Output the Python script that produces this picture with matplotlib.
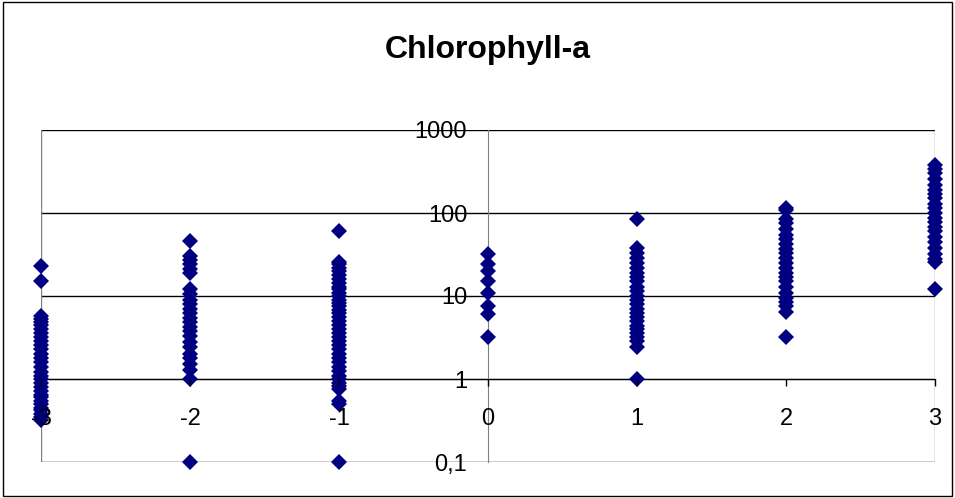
import matplotlib.pyplot as plt
import matplotlib.patches as patches
from matplotlib.ticker import FixedLocator, FixedFormatter, NullLocator

plt.rcParams['font.family'] = ['Liberation Sans', 'DejaVu Sans']
plt.rcParams['axes.unicode_minus'] = False

# chlorophyll-a values per class
vals_m3 = [23, 15, 5.8, 5.3, 4.8, 4.5, 4.0, 3.6, 3.2, 2.9, 2.6, 2.3, 2.0, 1.8, 1.6,
           1.4, 1.2, 1.1, 1.0, 0.9, 0.8, 0.72, 0.65, 0.6, 0.55, 0.5, 0.45, 0.42,
           0.38, 0.35, 0.32]
vals_m2 = [46, 30, 27, 24, 21, 19, 12, 10.5, 9, 8, 7, 6.2, 5.5, 4.8, 4.2, 3.8, 3.3,
           2.8, 2.4, 2.0, 1.8, 1.5, 1.3, 1.0, 0.1]
vals_m1 = [60, 26, 24, 22, 20, 18, 16, 14.5, 13, 12, 11, 10, 9, 8.2, 7.5, 6.8, 6.2,
           5.6, 5.0, 4.5, 4.0, 3.6, 3.2, 2.9, 2.6, 2.3, 2.0, 1.8, 1.6, 1.4, 1.25,
           1.1, 1.0, 0.9, 0.82, 0.75, 0.55, 0.5, 0.1]
vals_0 = [32, 24, 20, 15, 11, 7.5, 6, 3.2]
vals_p1 = [85, 38, 33, 29, 25, 22, 19, 17, 15, 13, 11.5, 10, 9, 8, 7, 6.3, 5.6, 5,
           4.4, 4, 3.6, 3.2, 2.9, 2.4, 1.0]
vals_p2 = [115, 110, 85, 75, 65, 55, 48, 42, 37, 33, 29, 25, 22, 19, 17, 15, 13, 11,
           9.5, 8.5, 7.5, 6.5, 3.2]
vals_p3 = [380, 340, 300, 260, 220, 190, 170, 150, 130, 115, 100, 88, 78, 68, 60,
           52, 45, 38, 32, 28, 26, 12]

classes = [-3, -2, -1, 0, 1, 2, 3]
groups = [vals_m3, vals_m2, vals_m1, vals_0, vals_p1, vals_p2, vals_p3]

y_ticks = [0.1, 1, 10, 100, 1000]
y_labels = ["0,1", "1", "10", "100", "1000"]
x_labels = ["-3", "-2", "-1", "0", "1", "2", "3"]

fig = plt.figure(figsize=(9.55, 4.98), dpi=100)
ax = fig.add_axes([41/955, 1-462/498, (935-41)/955, (462-130)/498])

xs, ys = [], []
for c, g in zip(classes, groups):
    xs += [c] * len(g)
    ys += g
ax.plot(xs, ys, 'D', color='#000080', ms=8, mew=0, ls='none', zorder=5, clip_on=False)

ax.set_yscale('log')
ax.set_ylim(0.1, 1000)
ax.set_xlim(-3, 3)

ax.yaxis.set_major_locator(FixedLocator(y_ticks))
ax.yaxis.set_major_formatter(FixedFormatter(y_labels))
ax.yaxis.set_minor_locator(NullLocator())
ax.set_xticks(classes)
ax.set_xticklabels(x_labels)

for y in y_ticks:
    ax.axhline(y, color='black', lw=1, zorder=1)
ax.axvline(-3, color='#808080', lw=1, zorder=1)
ax.axvline(3, color='#808080', lw=1, zorder=1)

ax.spines['top'].set_visible(False)
ax.spines['right'].set_visible(False)
ax.spines['left'].set_position(('data', 0))
ax.spines['left'].set_color('#808080')
ax.spines['left'].set_zorder(1.5)
ax.spines['bottom'].set_position(('data', 1))
ax.spines['bottom'].set_color('black')
ax.spines['bottom'].set_zorder(1.5)

ax.tick_params(axis='y', length=0, pad=15, labelsize=17)
ax.tick_params(axis='x', direction='out', length=5, width=1, pad=16, labelsize=17)
# tick labels sit on top of the markers, like in the original
ax.xaxis.set_zorder(6)
ax.yaxis.set_zorder(6)

fig.text(487.5/955, 1-58/498, "Chlorophyll-a", ha='center', va='baseline',
         fontsize=23, fontweight='bold')

fig.patches.append(patches.Rectangle((3/955, 2/498), 949/955, 494/498,
                                     transform=fig.transFigure, fill=False,
                                     edgecolor='black', lw=1))

fig.savefig('out.png', dpi=100)
